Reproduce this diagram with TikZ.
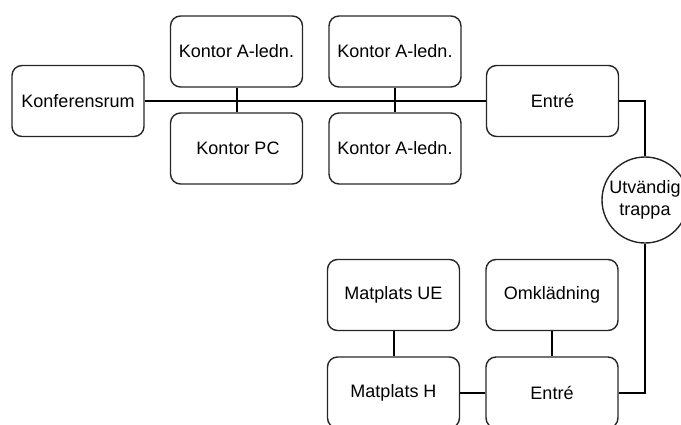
\documentclass[tikz,border=0pt]{standalone}
\usepackage{fontspec}
\setmainfont{Liberation Sans}
\begin{document}
\begin{tikzpicture}[x=1pt,y=-1pt,
  room/.style={draw=black!85, line width=1.4pt, rounded corners=10pt,
    minimum width=132pt, minimum height=71pt, inner sep=0pt,
    font=\fontsize{18}{21}\selectfont},
  stair/.style={draw=black!85, line width=1.4pt, circle, minimum size=86pt,
    inner sep=0pt, align=center, font=\fontsize{18}{22}\selectfont},
  link/.style={draw=black, line width=2pt}]
\useasboundingbox (0,0) rectangle (681,424);

% upper floor
\node[room] (konf)  at (78,101)    {Konferensrum};
\node[room] (ka1)   at (236.5,51.5) {Kontor A-ledn.};
\node[room] (kpc)   at (236.5,148.5) {\hspace{3pt}Kontor PC};
\node[room] (ka2)   at (395,51.5)  {Kontor A-ledn.};
\node[room] (ka3)   at (395,148.5) {Kontor A-ledn.};
\node[room] (ent1)  at (552.5,101) {Entré};

% outside stairs
\node[stair] (trp) at (645,200) {Utvändig\\trappa};

% lower floor
\node[room] (mue)  at (393.5,295)   {Matplats UE};
\node[room] (mh)   at (393.5,392.5) {Matplats H};
\node[room] (omk)  at (552,295)     {Omklädning};
\node[room] (ent2) at (552,392.5)   {Entré};

% corridors
\draw[link] (konf.east) -- (ent1.west);
\draw[link] (ka1.south) -- (kpc.north);
\draw[link] (ka2.south) -- (ka3.north);
\draw[link] (ent1.east) -| (trp.north);
\draw[link] (ent2.east) -| (trp.south);
\draw[link] (mue.south) -- (mh.north);
\draw[link] (omk.south) -- (ent2.north);
\draw[link] (mh.east) -- (ent2.west);
\end{tikzpicture}
\end{document}
